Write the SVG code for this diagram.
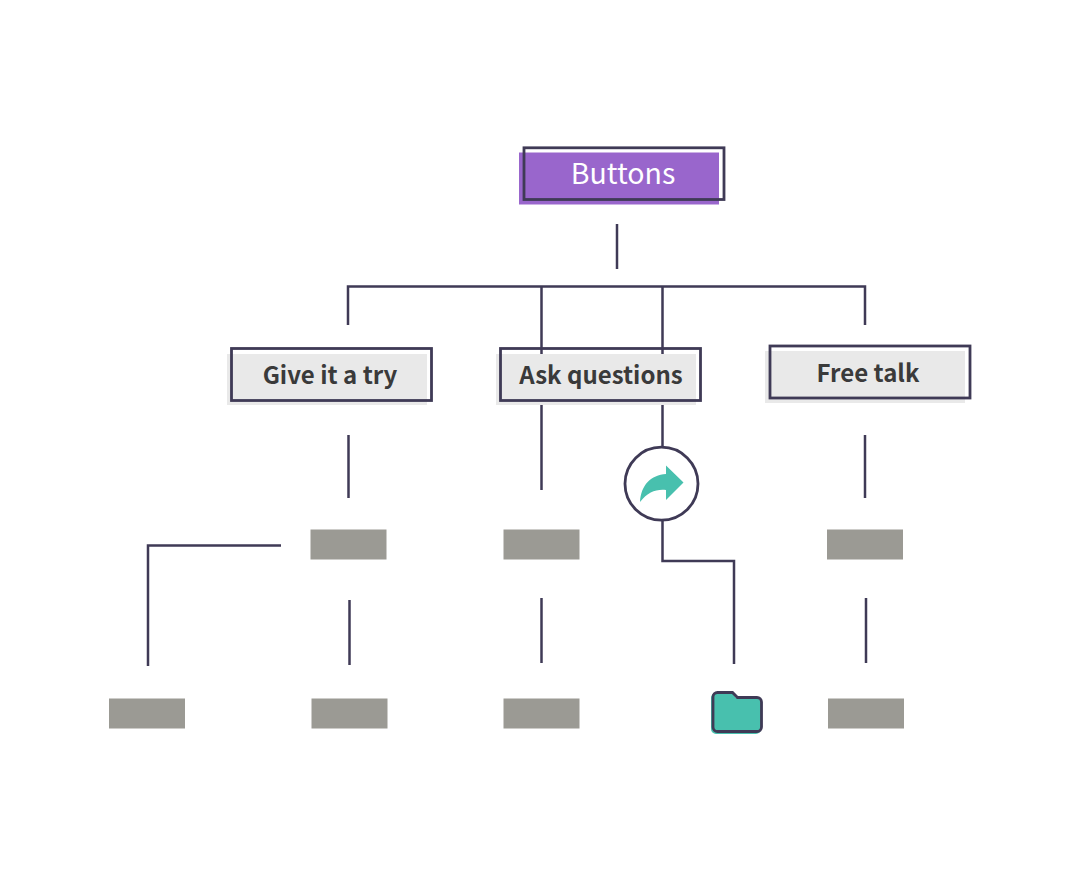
<svg xmlns="http://www.w3.org/2000/svg" width="1080" height="880" viewBox="0 0 1080 880">
<style>
.ln{fill:none;stroke:#3f3a56;stroke-width:2.5}
.ol{fill:none;stroke:#3f3a56;stroke-width:2.8}
.bg{fill:#e9e9e9}
.leaf{fill:#9b9a94}
.t{font-family:"Noto Sans CJK SC",sans-serif;font-weight:700;font-size:24px;fill:#3a3a3a;text-anchor:middle}
</style>
<rect width="1080" height="880" fill="#ffffff"/>
<g id="connectors">
<path class="ln" d="M617 224V269"/>
<path class="ln" d="M348 325V286.500H865V325"/>
<path class="ln" d="M541.500 286.500V354M662.500 286.500V354"/>
<path class="ln" d="M348.500 435V498"/>
<path class="ln" d="M541.500 405V490"/>
<path class="ln" d="M662.500 405V447"/>
<path class="ln" d="M865 435V498"/>
<path class="ln" d="M281 545.500H148V666"/>
<path class="ln" d="M349.500 600V665"/>
<path class="ln" d="M541.500 598V663"/>
<path class="ln" d="M662.500 520V561H734V664"/>
<path class="ln" d="M866 598V663"/>
</g>
<g id="node-buttons">
<rect x="519" y="152.500" width="200" height="52" fill="#9966cc"/>
<rect class="ol" x="524" y="147.800" width="200" height="51.700"/>
<text x="623" y="183.500" font-family="Noto Sans CJK SC, sans-serif" font-size="28.500" fill="#ffffff" text-anchor="middle">Buttons</text>
</g>
<g id="node-give">
<rect class="bg" x="227" y="354" width="200" height="51"/>
<rect class="ol" x="231.500" y="348.500" width="200" height="52"/>
<text class="t" x="330" y="384">Give it a try</text>
</g>
<g id="node-ask">
<rect class="bg" x="496" y="354" width="200" height="51"/>
<rect class="ol" x="500.500" y="348.500" width="200" height="52"/>
<text class="t" x="601" y="384">Ask questions</text>
</g>
<g id="node-free">
<rect class="bg" x="765" y="351" width="200" height="52"/>
<rect class="ol" x="770" y="346" width="200" height="52"/>
<text class="t" x="868" y="382">Free talk</text>
</g>
<g id="node-share">
<circle cx="661.500" cy="483.700" r="36.500" fill="#ffffff" stroke="#3f3a56" stroke-width="2.800"/>
<path d="M683.500 482.500L666 465.500V474C651 475 641 485 640 502C648 492 656 489 666 490V500Z" fill="#48c0ae"/>
</g>
<g id="leaf-1"><rect class="leaf" x="310.500" y="529.500" width="76" height="30"/></g>
<g id="leaf-2"><rect class="leaf" x="503.500" y="529.500" width="76" height="30"/></g>
<g id="leaf-3"><rect class="leaf" x="827" y="529.500" width="76" height="30"/></g>
<g id="leaf-4"><rect class="leaf" x="109" y="698.500" width="76" height="30"/></g>
<g id="leaf-5"><rect class="leaf" x="311.500" y="698.500" width="76" height="30"/></g>
<g id="leaf-6"><rect class="leaf" x="503.500" y="698.500" width="76" height="30"/></g>
<g id="leaf-7"><rect class="leaf" x="828" y="698.500" width="76" height="30"/></g>
<g id="node-folder">
<path d="M711 698a5 5 0 0 1 5-5H732l4 5H756a5 5 0 0 1 5 5V729a5 5 0 0 1-5 5H716a5 5 0 0 1-5-5Z" fill="#48c0ae"/>
<path d="M713 697a4.500 4.500 0 0 1 4.500-4.500H732.500l5 5H757a4.500 4.500 0 0 1 4.500 4.500V727a4.500 4.500 0 0 1-4.500 4.500H717.500a4.500 4.500 0 0 1-4.500-4.500Z" fill="none" stroke="#3f3a56" stroke-width="2.800"/>
</g>
</svg>
